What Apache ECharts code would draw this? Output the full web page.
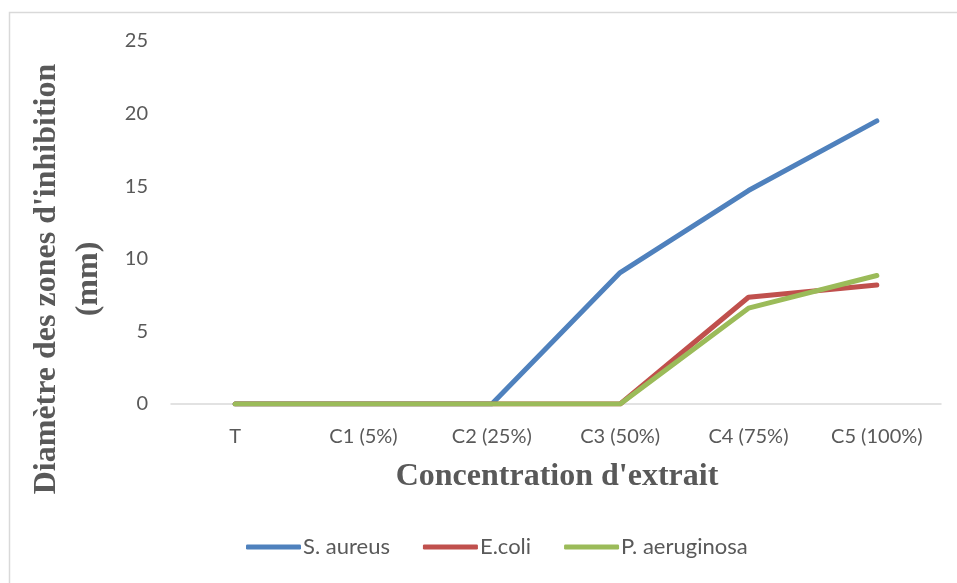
<!DOCTYPE html>
<html>
<head>
<meta charset="utf-8">
<script src="https://cdn.jsdelivr.net/npm/echarts@6/dist/echarts.min.js"></script>
<style>
  html, body { margin: 0; padding: 0; background: #fff; }
  #chart { width: 957px; height: 583px; }
</style>
</head>
<body>
<div id="chart"></div>
<script>
// Inhibition zone diameter (mm) per extract concentration
const categories = ['T', 'C1 (5%)', 'C2 (25%)', 'C3 (50%)', 'C4 (75%)', 'C5 (100%)'];
const sAureus = [0, 0, 0, 9.05, 14.7, 19.5];
const eColi = [0, 0, 0, 0, 7.35, 8.2];
const pAeruginosa = [0, 0, 0, 0, 6.6, 8.85];
const yTicks = { min: 0, max: 25, interval: 5 };

const seriesNames = ['S. aureus', 'E.coli', 'P. aeruginosa'];
const seriesData = [sAureus, eColi, pAeruginosa];
const colors = ['#4f81bd', '#c0504d', '#9bbb59'];

const labelFont = 'Lato, "Open Sans", sans-serif';
const titleFont = '"Liberation Serif", "Times New Roman", serif';

const chart = echarts.init(document.getElementById('chart'), null, { renderer: 'canvas' });

chart.setOption({
  animation: false,
  backgroundColor: '#ffffff',
  grid: { left: 171, right: 16, top: 41, bottom: 179, containLabel: false },
  xAxis: {
    type: 'category',
    data: categories,
    boundaryGap: true,
    axisLine: { show: true, lineStyle: { color: '#d9d9d9', width: 1.5 } },
    axisTick: { show: false },
    axisLabel: { color: '#595959', fontSize: 20, fontFamily: labelFont, margin: 23 },
    splitLine: { show: false }
  },
  yAxis: {
    type: 'value',
    min: yTicks.min,
    max: yTicks.max,
    interval: yTicks.interval,
    axisLine: { show: false },
    axisTick: { show: false },
    axisLabel: { color: '#595959', fontSize: 20, fontFamily: labelFont, margin: 23 },
    splitLine: { show: false }
  },
  legend: {
    data: seriesNames,
    bottom: 20,
    left: 241,
    icon: 'roundRect',
    itemWidth: 55,
    itemHeight: 5,
    itemGap: 33,
    textStyle: { color: '#595959', fontSize: 22, fontFamily: labelFont, padding: [0, 0, 0, -3] }
  },
  series: seriesNames.map((name, i) => ({
    name: name,
    type: 'line',
    data: seriesData[i],
    symbol: 'none',
    color: colors[i],
    lineStyle: { width: 5, color: colors[i], cap: 'round', join: 'round' },
    z: 2 + i
  })),
  graphic: [
    {
      type: 'rect',
      shape: { x: 9.5, y: 12.5, width: 980, height: 600 },
      style: { fill: 'none', stroke: '#d9d9d9', lineWidth: 1.5 },
      silent: true,
      z: -1
    },
    {
      type: 'text',
      x: 557,
      y: 477,
      style: {
        text: "Concentration d'extrait",
        fill: '#595959',
        font: 'bold 32px ' + titleFont,
        align: 'center',
        verticalAlign: 'middle'
      }
    },
    {
      type: 'text',
      x: 68,
      y: 279,
      rotation: Math.PI / 2,
      style: {
        text: "Diamètre des zones d'inhibition\n(mm)",
        fill: '#595959',
        font: 'bold 32px ' + titleFont,
        align: 'center',
        verticalAlign: 'middle',
        lineHeight: 42
      }
    }
  ]
});
</script>
</body>
</html>
